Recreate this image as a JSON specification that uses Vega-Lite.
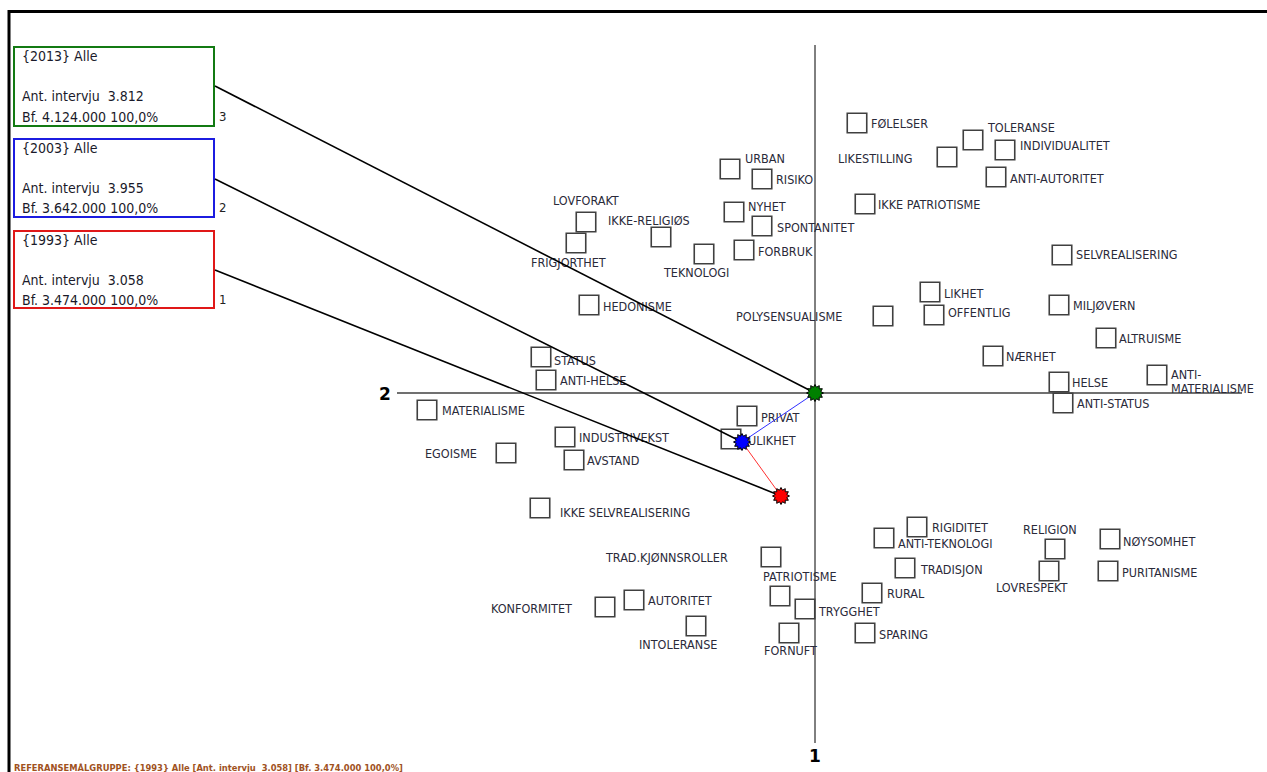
{
  "$schema": "https://vega.github.io/schema/vega-lite/v6.json",
  "width": 1267,
  "height": 772,
  "autosize": {"type": "none"},
  "padding": 0,
  "background": "white",
  "config": {"view": {"stroke": null}},
  "resolve": {"scale": {"stroke": "independent", "strokeWidth": "independent", "fill": "independent"}},
  "datasets": {
    "items": [
      {"name": "URBAN", "x": -0.85, "y": 2.24, "lx": -0.70, "ly": 2.34},
      {"name": "RISIKO", "x": -0.53, "y": 2.14, "lx": -0.39, "ly": 2.13},
      {"name": "LOVFORAKT", "x": -2.29, "y": 1.71, "lx": -2.62, "ly": 1.92},
      {"name": "FRIGJORTHET", "x": -2.39, "y": 1.50, "lx": -2.84, "ly": 1.30},
      {"name": "IKKE-RELIGIØS", "x": -1.54, "y": 1.56, "lx": -2.07, "ly": 1.72},
      {"name": "NYHET", "x": -0.81, "y": 1.81, "lx": -0.67, "ly": 1.86},
      {"name": "SPONTANITET", "x": -0.53, "y": 1.67, "lx": -0.38, "ly": 1.65},
      {"name": "TEKNOLOGI", "x": -1.11, "y": 1.39, "lx": -1.51, "ly": 1.20},
      {"name": "FORBRUK", "x": -0.71, "y": 1.43, "lx": -0.57, "ly": 1.41},
      {"name": "HEDONISME", "x": -2.26, "y": 0.88, "lx": -2.12, "ly": 0.86},
      {"name": "POLYSENSUALISME", "x": 0.68, "y": 0.77, "lx": -0.79, "ly": 0.76},
      {"name": "FØLELSER", "x": 0.42, "y": 2.70, "lx": 0.56, "ly": 2.69},
      {"name": "TOLERANSE", "x": 1.58, "y": 2.53, "lx": 1.73, "ly": 2.65},
      {"name": "INDIVIDUALITET", "x": 1.90, "y": 2.43, "lx": 2.05, "ly": 2.47},
      {"name": "LIKESTILLING", "x": 1.32, "y": 2.36, "lx": 0.23, "ly": 2.34},
      {"name": "ANTI-AUTORITET", "x": 1.81, "y": 2.16, "lx": 1.95, "ly": 2.14},
      {"name": "IKKE PATRIOTISME", "x": 0.50, "y": 1.89, "lx": 0.63, "ly": 1.88},
      {"name": "SELVREALISERING", "x": 2.47, "y": 1.38, "lx": 2.61, "ly": 1.38},
      {"name": "LIKHET", "x": 1.15, "y": 1.01, "lx": 1.29, "ly": 0.99},
      {"name": "OFFENTLIG", "x": 1.19, "y": 0.78, "lx": 1.33, "ly": 0.80},
      {"name": "MILJØVERN", "x": 2.44, "y": 0.88, "lx": 2.58, "ly": 0.87},
      {"name": "ALTRUISME", "x": 2.91, "y": 0.55, "lx": 3.04, "ly": 0.54},
      {"name": "NÆRHET", "x": 1.78, "y": 0.37, "lx": 1.91, "ly": 0.36},
      {"name": "HELSE", "x": 2.44, "y": 0.11, "lx": 2.57, "ly": 0.10},
      {"name": "ANTI-\nMATERIALISME", "x": 3.42, "y": 0.18, "lx": 3.56, "ly": 0.18},
      {"name": "ANTI-STATUS", "x": 2.48, "y": -0.10, "lx": 2.62, "ly": -0.11},
      {"name": "STATUS", "x": -2.74, "y": 0.36, "lx": -2.61, "ly": 0.32},
      {"name": "ANTI-HELSE", "x": -2.69, "y": 0.13, "lx": -2.55, "ly": 0.12},
      {"name": "MATERIALISME", "x": -3.88, "y": -0.17, "lx": -3.73, "ly": -0.18},
      {"name": "INDUSTRIVEKST", "x": -2.50, "y": -0.44, "lx": -2.36, "ly": -0.45},
      {"name": "EGOISME", "x": -3.09, "y": -0.60, "lx": -3.90, "ly": -0.61},
      {"name": "AVSTAND", "x": -2.41, "y": -0.67, "lx": -2.28, "ly": -0.68},
      {"name": "IKKE SELVREALISERING", "x": -2.75, "y": -1.15, "lx": -2.55, "ly": -1.20},
      {"name": "PRIVAT", "x": -0.68, "y": -0.23, "lx": -0.54, "ly": -0.25},
      {"name": "ULIKHET", "x": -0.84, "y": -0.46, "lx": -0.67, "ly": -0.48},
      {"name": "TRAD.KJØNNSROLLER", "x": -0.44, "y": -1.64, "lx": -2.09, "ly": -1.65},
      {"name": "PATRIOTISME", "x": -0.35, "y": -2.03, "lx": -0.52, "ly": -1.84},
      {"name": "TRYGGHET", "x": -0.10, "y": -2.16, "lx": 0.04, "ly": -2.19},
      {"name": "FORNUFT", "x": -0.26, "y": -2.40, "lx": -0.51, "ly": -2.58},
      {"name": "KONFORMITET", "x": -2.10, "y": -2.14, "lx": -3.24, "ly": -2.16},
      {"name": "AUTORITET", "x": -1.81, "y": -2.07, "lx": -1.67, "ly": -2.08},
      {"name": "INTOLERANSE", "x": -1.19, "y": -2.33, "lx": -1.76, "ly": -2.52},
      {"name": "RIGIDITET", "x": 1.02, "y": -1.34, "lx": 1.17, "ly": -1.35},
      {"name": "ANTI-TEKNOLOGI", "x": 0.69, "y": -1.45, "lx": 0.83, "ly": -1.51},
      {"name": "TRADISJON", "x": 0.90, "y": -1.75, "lx": 1.06, "ly": -1.77},
      {"name": "RURAL", "x": 0.57, "y": -2.00, "lx": 0.72, "ly": -2.01},
      {"name": "SPARING", "x": 0.50, "y": -2.40, "lx": 0.64, "ly": -2.42},
      {"name": "RELIGION", "x": 2.40, "y": -1.56, "lx": 2.08, "ly": -1.37},
      {"name": "LOVRESPEKT", "x": 2.34, "y": -1.78, "lx": 1.81, "ly": -1.95},
      {"name": "NØYSOMHET", "x": 2.95, "y": -1.46, "lx": 3.08, "ly": -1.49},
      {"name": "PURITANISME", "x": 2.93, "y": -1.78, "lx": 3.07, "ly": -1.80}
    ],
    "groups": [
      {"year": "2013", "x": 0.0, "y": 0.0},
      {"year": "2003", "x": -0.73, "y": -0.49},
      {"year": "1993", "x": -0.34, "y": -1.03}
    ],
    "connectors": [
      {"year": "2013", "x": -6.00, "y": 3.07, "x2": 0.0, "y2": 0.0},
      {"year": "2003", "x": -6.00, "y": 2.14, "x2": -0.73, "y2": -0.49},
      {"year": "1993", "x": -6.00, "y": 1.23, "x2": -0.34, "y2": -1.03}
    ],
    "moves": [
      {"year": "2003", "x": 0.0, "y": 0.0, "x2": -0.73, "y2": -0.49},
      {"year": "1993", "x": -0.73, "y": -0.49, "x2": -0.34, "y2": -1.03}
    ],
    "boxes": [
      {"year": "2013", "x": -8.01, "x2": -6.01, "y": 3.46, "y2": 2.67, "nx": -5.96, "ny": 2.76, "num": "3"},
      {"year": "2003", "x": -8.01, "x2": -6.01, "y": 2.54, "y2": 1.76, "nx": -5.96, "ny": 1.85, "num": "2"},
      {"year": "1993", "x": -8.01, "x2": -6.01, "y": 1.62, "y2": 0.85, "nx": -5.96, "ny": 0.93, "num": "1"}
    ],
    "boxtext": [
      {"text": "{2013} Alle", "x": -7.93, "y": 3.36},
      {"text": "Ant. intervju \u00a03.812", "x": -7.93, "y": 2.96},
      {"text": "Bf. 4.124.000 100,0%", "x": -7.93, "y": 2.755},
      {"text": "{2003} Alle", "x": -7.93, "y": 2.44},
      {"text": "Ant. intervju \u00a03.955", "x": -7.93, "y": 2.04},
      {"text": "Bf. 3.642.000 100,0%", "x": -7.93, "y": 1.845},
      {"text": "{1993} Alle", "x": -7.93, "y": 1.52},
      {"text": "Ant. intervju \u00a03.058", "x": -7.93, "y": 1.12},
      {"text": "Bf. 3.474.000 100,0%", "x": -7.93, "y": 0.925}
    ],
    "axislines": [
      {"axis": "2", "x": -4.18, "y": 0.0, "x2": 4.27, "y2": 0.0},
      {"axis": "1", "x": 0.0, "y": 3.48, "x2": 0.0, "y2": -3.50}
    ],
    "axislabels": [
      {"text": "2", "x": -4.30, "y": -0.02},
      {"text": "1", "x": 0.0, "y": -3.64}
    ],
    "frame": [
      {"side": "top", "x": -8.07, "y": 3.815, "x2": 4.52, "y2": 3.815},
      {"side": "left", "x": -8.06, "y": 3.83, "x2": -8.06, "y2": -3.79}
    ],
    "footer": [
      {"text": "REFERANSEMÅLGRUPPE: {1993} Alle [Ant. intervju \u00a03.058] [Bf. 3.474.000 100,0%]", "x": -8.01, "y": -3.745}
    ]
  },
  "encoding": {
    "x": {"field": "x", "type": "quantitative", "scale": {"domain": [-8.15, 4.52], "nice": false, "zero": false}, "axis": null},
    "y": {"field": "y", "type": "quantitative", "scale": {"domain": [-3.79, 3.93], "nice": false, "zero": false}, "axis": null}
  },
  "layer": [
    {
      "data": {"name": "frame"},
      "mark": {"type": "rule", "stroke": "#000000", "strokeWidth": 3},
      "encoding": {"x2": {"field": "x2"}, "y2": {"field": "y2"}}
    },
    {
      "data": {"name": "axislines"},
      "mark": {"type": "rule"},
      "encoding": {
        "x2": {"field": "x2"}, "y2": {"field": "y2"},
        "stroke": {"field": "axis", "type": "nominal", "scale": {"domain": ["1", "2"], "range": ["#000000", "#707070"]}, "legend": null},
        "strokeWidth": {"field": "axis", "type": "nominal", "scale": {"domain": ["1", "2"], "range": [1, 2]}, "legend": null}
      }
    },
    {
      "data": {"name": "axislabels"},
      "mark": {"type": "text", "font": "DejaVu Sans", "fontWeight": "bold", "fontSize": 17, "align": "center", "baseline": "middle", "color": "#000000"},
      "encoding": {"text": {"field": "text"}}
    },
    {
      "data": {"name": "items"},
      "mark": {"type": "point", "shape": "square", "filled": false, "size": 380, "stroke": "#404040", "strokeWidth": 1.6, "opacity": 1},
      "encoding": {}
    },
    {
      "data": {"name": "items"},
      "mark": {"type": "text", "font": "DejaVu Sans Condensed, Liberation Sans Narrow, sans-serif", "fontSize": 12.5, "align": "left", "baseline": "middle", "color": "#2a2a3a", "lineBreak": "\n", "lineHeight": 14},
      "encoding": {
        "x": {"field": "lx", "type": "quantitative"},
        "y": {"field": "ly", "type": "quantitative"},
        "text": {"field": "name"}
      }
    },
    {
      "data": {"name": "boxes"},
      "mark": {"type": "rect", "fill": null, "fillOpacity": 0, "strokeWidth": 2},
      "encoding": {
        "x2": {"field": "x2"}, "y2": {"field": "y2"},
        "stroke": {"field": "year", "type": "nominal", "scale": {"domain": ["1993", "2003", "2013"], "range": ["#e01818", "#1c1ce0", "#137a13"]}, "legend": null}
      }
    },
    {
      "data": {"name": "boxes"},
      "mark": {"type": "text", "font": "DejaVu Sans Condensed, sans-serif", "fontSize": 13, "align": "left", "baseline": "middle", "color": "#222222"},
      "encoding": {
        "x": {"field": "nx", "type": "quantitative"},
        "y": {"field": "ny", "type": "quantitative"},
        "text": {"field": "num"}
      }
    },
    {
      "data": {"name": "boxtext"},
      "mark": {"type": "text", "font": "DejaVu Sans Condensed, sans-serif", "fontSize": 14, "align": "left", "baseline": "middle", "color": "#1a1a2a"},
      "encoding": {"text": {"field": "text"}}
    },
    {
      "data": {"name": "connectors"},
      "mark": {"type": "rule", "stroke": "#000000", "strokeWidth": 1.6},
      "encoding": {"x2": {"field": "x2"}, "y2": {"field": "y2"}}
    },
    {
      "data": {"name": "moves"},
      "mark": {"type": "rule", "strokeWidth": 1},
      "encoding": {
        "x2": {"field": "x2"}, "y2": {"field": "y2"},
        "stroke": {"field": "year", "type": "nominal", "scale": {"domain": ["1993", "2003"], "range": ["#ff3030", "#3030ff"]}, "legend": null}
      }
    },
    {
      "data": {"name": "groups"},
      "mark": {"type": "point", "shape": "M1,0L0.676,0.181L0.866,0.5L0.495,0.495L0.5,0.866L0.181,0.676L0,1L-0.181,0.676L-0.5,0.866L-0.495,0.495L-0.866,0.5L-0.676,0.181L-1,0L-0.676,-0.181L-0.866,-0.5L-0.495,-0.495L-0.5,-0.866L-0.181,-0.676L0,-1L0.181,-0.676L0.5,-0.866L0.495,-0.495L0.866,-0.5L0.676,-0.181Z", "filled": true, "size": 290, "stroke": "#000000", "strokeWidth": 1, "opacity": 1},
      "encoding": {
        "fill": {"field": "year", "type": "nominal", "scale": {"domain": ["1993", "2003", "2013"], "range": ["#ff0000", "#0000ff", "#008000"]}, "legend": null}
      }
    },
    {
      "data": {"name": "footer"},
      "mark": {"type": "text", "font": "DejaVu Sans Condensed, sans-serif", "fontSize": 9.3, "fontWeight": "bold", "align": "left", "baseline": "middle", "color": "#a0521e"},
      "encoding": {"text": {"field": "text"}}
    }
  ]
}
